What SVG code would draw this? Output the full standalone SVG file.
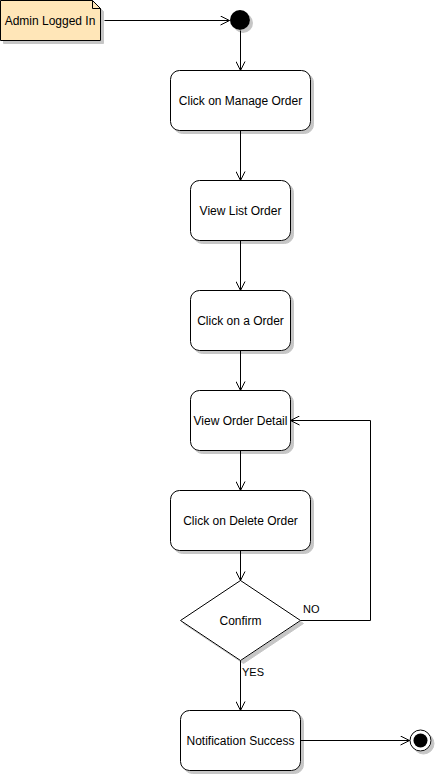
<svg xmlns="http://www.w3.org/2000/svg" width="435" height="775" viewBox="0 0 435 775">
<defs>
<style>
.node{fill:#ffffff;stroke:#000000;stroke-width:1}
.lbl{font-family:"Liberation Sans",Arial,sans-serif;font-size:12px;fill:#000000;text-anchor:middle;dominant-baseline:central}
.edge{fill:none;stroke:#000000;stroke-width:1}
.elbl{font-family:"Liberation Sans",Arial,sans-serif;font-size:11px;fill:#000000}
</style>
<filter id="sh" x="-10%" y="-10%" width="130%" height="130%">
<feOffset in="SourceAlpha" dx="3" dy="3" result="o"/>
<feFlood flood-color="#808080" flood-opacity="0.45"/>
<feComposite in2="o" operator="in" result="s"/>
<feMerge><feMergeNode in="s"/><feMergeNode in="SourceGraphic"/></feMerge>
</filter>
<marker id="arr" viewBox="0 0 10 10" markerUnits="userSpaceOnUse" markerWidth="10" markerHeight="10" refX="10" refY="5" orient="auto">
<path d="M1,0.5 L10,5 L1,9.5" fill="none" stroke="#000" stroke-width="1"/>
</marker>
</defs>
<rect width="435" height="775" fill="#ffffff"/>
<g id="note">
<path d="M0.5,0.5 H92.5 L100.5,8.5 V40.5 H0.5 Z" fill="#ffe6b8" stroke="#000" filter="url(#sh)"/>
<path d="M92.5,0.5 V8.5 H100.5" fill="none" stroke="#000"/>
<text class="lbl" x="50" y="21">Admin Logged In</text>
</g>
<g id="start">
<circle cx="240" cy="20" r="10" fill="#000" filter="url(#sh)"/>
</g>
<g id="n1">
<rect class="node" x="170.5" y="70.5" width="140" height="60" rx="9" filter="url(#sh)"/>
<text class="lbl" x="240.5" y="101">Click on Manage Order</text>
</g>
<g id="n2">
<rect class="node" x="190.5" y="180.5" width="100" height="60" rx="9" filter="url(#sh)"/>
<text class="lbl" x="240.5" y="211">View List Order</text>
</g>
<g id="n3">
<rect class="node" x="190.5" y="290.5" width="100" height="60" rx="9" filter="url(#sh)"/>
<text class="lbl" x="240.5" y="321">Click on a Order</text>
</g>
<g id="n4">
<rect class="node" x="190.5" y="390.5" width="100" height="60" rx="9" filter="url(#sh)"/>
<text class="lbl" x="240.5" y="421">View Order Detail</text>
</g>
<g id="n5">
<rect class="node" x="170.5" y="490.5" width="140" height="60" rx="9" filter="url(#sh)"/>
<text class="lbl" x="240.5" y="521">Click on Delete Order</text>
</g>
<g id="decision">
<path class="node" d="M240.5,580.5 L300.5,620.5 L240.5,660.5 L180.5,620.5 Z" filter="url(#sh)"/>
<text class="lbl" x="240.5" y="621">Confirm</text>
</g>
<g id="n6">
<rect class="node" x="180.5" y="710.5" width="120" height="60" rx="9" filter="url(#sh)"/>
<text class="lbl" x="240.5" y="741">Notification Success</text>
</g>
<g id="end">
<circle cx="420.5" cy="740.5" r="10.5" fill="#fff" stroke="#000" filter="url(#sh)"/>
<circle cx="420.5" cy="740.5" r="7" fill="#000"/>
</g>
<g id="edges">
<path class="edge" d="M104.5,20.5 H229.5" marker-end="url(#arr)"/>
<path class="edge" d="M240.5,30.5 V70.5" marker-end="url(#arr)"/>
<path class="edge" d="M240.5,130.5 V180.5" marker-end="url(#arr)"/>
<path class="edge" d="M240.5,240.5 V290.5" marker-end="url(#arr)"/>
<path class="edge" d="M240.5,350.5 V390.5" marker-end="url(#arr)"/>
<path class="edge" d="M240.5,450.5 V490.5" marker-end="url(#arr)"/>
<path class="edge" d="M240.5,550.5 V580.5" marker-end="url(#arr)"/>
<path class="edge" d="M300.5,620.5 H370.5 V420.5 H290.5" marker-end="url(#arr)"/>
<path class="edge" d="M240.5,660.5 V710.5" marker-end="url(#arr)"/>
<path class="edge" d="M300.5,740.5 H409.5" marker-end="url(#arr)"/>
<text class="elbl" x="303" y="613">NO</text>
<text class="elbl" x="242" y="676">YES</text>
</g>
</svg>
